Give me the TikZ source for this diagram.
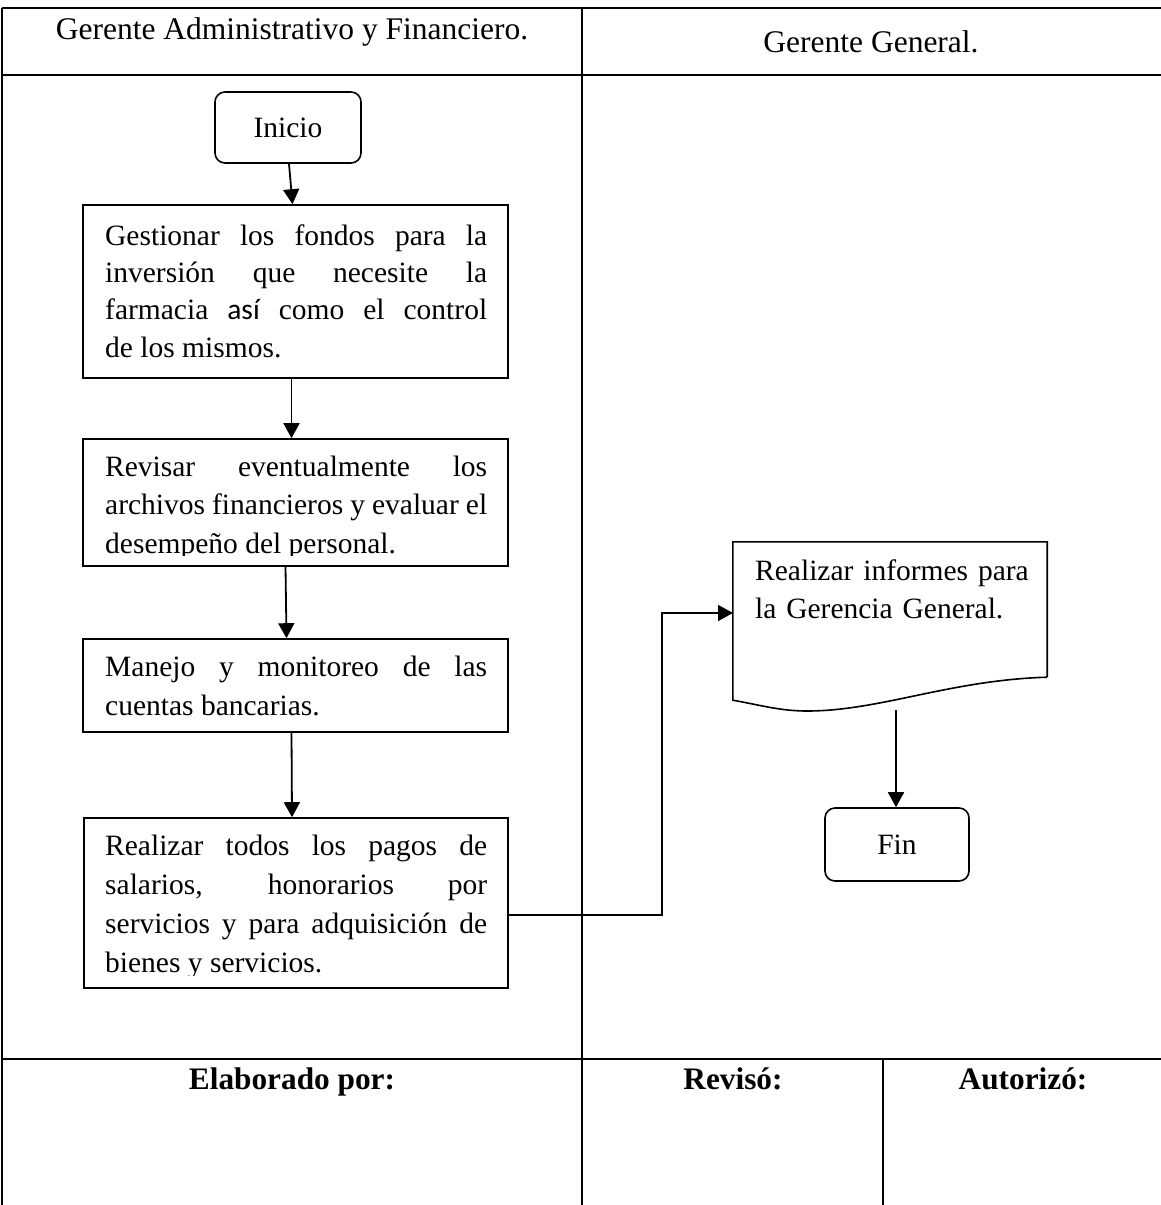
\documentclass[tikz,border=0pt]{standalone}
\usepackage{fontspec}
\setmainfont{Liberation Serif}
\newfontfamily\carlito{Carlito}
\usetikzlibrary{arrows.meta}
\begin{document}
\begin{tikzpicture}[x=1pt,y=-1pt,
  txt/.style={font=\fontsize{29.5}{38}\selectfont, inner sep=0pt},
  hdr/.style={font=\fontsize{31.5}{36}\selectfont, inner sep=0pt, anchor=base},
  ftr/.style={font=\fontsize{31.3}{36}\selectfont\bfseries, inner sep=0pt, anchor=base},
  para/.style={txt, anchor=base west, text width=382pt, align=justify},
  procbox/.style={draw, line width=1.6pt, inner sep=0pt},
  termbox/.style={draw, line width=1.6pt, rounded corners=10pt, inner sep=0pt,
                  font=\fontsize{29.5}{36}\selectfont},
  tip/.style={-{Triangle[length=15pt,width=16pt]}},
  arr/.style={line width=1.8pt, tip},
  heavyrule/.style={line width=2.6pt},
  lightrule/.style={line width=1.6pt}]
\useasboundingbox (0,0) rectangle (1161,1205);

% --- table frame ---
\draw[heavyrule] (2,8) -- (1161,8);
\draw[heavyrule] (2,75) -- (1161,75);
\draw[lightrule] (2,1059) -- (1161,1059);
\draw[lightrule] (2,8) -- (2,1205);
\draw[lightrule] (582,8) -- (582,1205);
\draw[lightrule] (883,1059) -- (883,1205);

% --- column titles ---
\node[hdr] (h1) at (292,39) {Gerente Administrativo y Financiero.};
\node[hdr] (h2) at (871,52) {Gerente General.};

% --- signature row ---
\node[ftr] (f1) at (292,1089) {Elaborado por:};
\node[ftr] (f2) at (733,1089) {Revisó:};
\node[ftr] (f3) at (1023,1089) {Autorizó:};

% --- step texts ---
\node[para, font=\fontsize{29.5}{37.4}\selectfont] (t1) at (105,245) {Gestionar los fondos para la\linebreak
  inversión que necesite la\linebreak
  farmacia {\carlito así} como el control\linebreak
  de los mismos.};
\node[para, font=\fontsize{29.5}{38.5}\selectfont] (t2) at (105,476) {Revisar eventualmente los\linebreak
  archivos financieros y evaluar el\linebreak
  desempeño del personal.};
\node[para, font=\fontsize{29.5}{39}\selectfont] (t3) at (105,676) {Manejo y monitoreo de las\linebreak
  cuentas bancarias.};
\node[para, font=\fontsize{29.5}{39.3}\selectfont] (t4) at (105,855) {Realizar todos los pagos de\linebreak
  salarios, honorarios por\linebreak
  servicios y para adquisición de\linebreak
  bienes y servicios.};
\node[txt, anchor=base west, text width=300pt, align=left] (t5) at (755,580) {Realizar informes para\\la Gerencia General.};

% text running past the lower edge of two boxes is hidden
\fill[white] (85,556) rectangle (507,566);
\fill[white] (85,976) rectangle (507,988);

% --- boxes ---
\node[termbox, minimum width=146pt, minimum height=71pt] (ini) at (288,127.5) {Inicio};
\node[procbox, minimum width=425pt, minimum height=173pt] (b1) at (295.5,291.5) {};
\node[procbox, minimum width=425pt, minimum height=127pt] (b2) at (295.5,502.5) {};
\node[procbox, minimum width=425pt, minimum height=93pt] (b3) at (295.5,685.5) {};
\node[procbox, minimum width=424pt, minimum height=170pt] (b4) at (296,903) {};
\node[termbox, minimum width=144pt, minimum height=73pt] (fin) at (897,844.5) {Fin};

% document symbol: straight top and sides, wavy lower edge
\node[inner sep=0pt, minimum width=314pt, minimum height=135pt] (doc) at (890,609.5) {};
\draw[line width=1.6pt]
  (doc.south east) -- (doc.north east) -- (doc.north west) -- ([yshift=-23pt]doc.south west)
  .. controls (760,705) and (780,711) .. (807,711)
  .. controls (880,711) and (950,680) .. (doc.south east);

% --- connectors ---
\draw[arr] ([xshift=1pt]ini.south) -- ([xshift=-3pt]b1.north);
\draw[arr] ([xshift=-4pt]b1.south) -- ([xshift=-4pt]b2.north);
\draw[arr] ([xshift=-10pt]b2.south) -- ([xshift=-9pt]b3.north);
\draw[arr] ([xshift=-4pt]b3.south) -- ([xshift=-4pt]b4.north);
\coordinate (k1) at (662,915);
\coordinate (k2) at (733,613);
\draw[line width=1.6pt, tip] (b4.east |- k1) -- (k1) |- (k2);
\coordinate (dout) at (896,710);
\draw[arr] (dout) -- (dout |- fin.north);
\end{tikzpicture}
\end{document}
